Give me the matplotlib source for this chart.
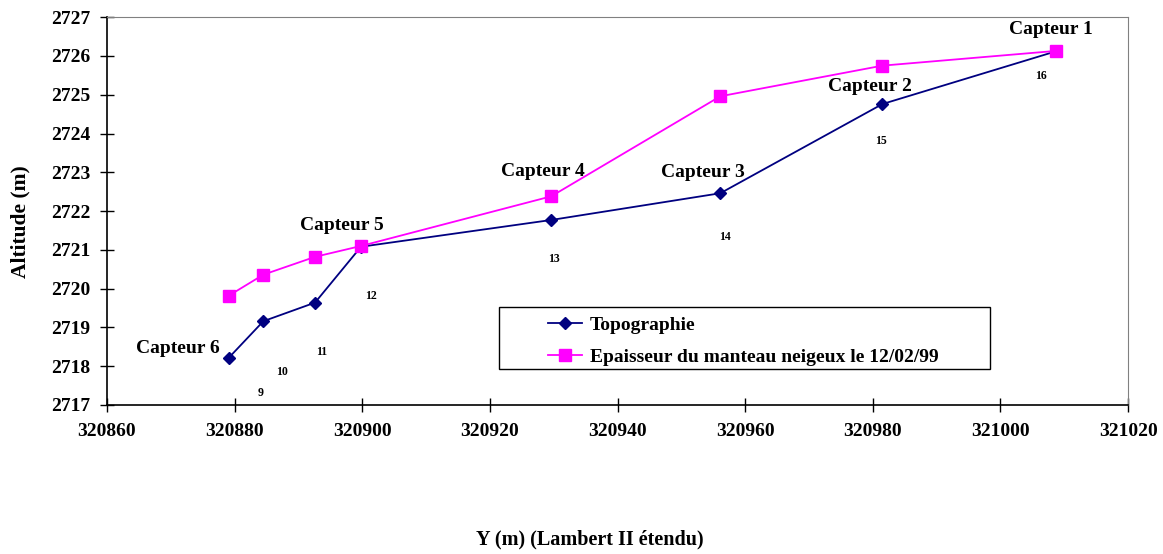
import matplotlib.pyplot as plt
from matplotlib.patches import Rectangle

plt.rcParams['font.family'] = ['Liberation Serif', 'DejaVu Serif']
plt.rcParams['font.weight'] = 'bold'

# profil en long : Y (Lambert II étendu) et altitudes
y_lambert = [320879.1, 320884.5, 320892.6, 320899.8, 320929.6, 320956.1, 320981.5, 321008.7]
topo = [2718.22, 2719.16, 2719.64, 2721.08, 2721.77, 2722.46, 2724.76, 2726.12]
neige = [2719.82, 2720.36, 2720.82, 2721.10, 2722.38, 2724.96, 2725.75, 2726.13]

# numéros des points
num_labels = ['9', '10', '11', '12', '13', '14', '15', '16']
num_x = [320884.1, 320887.4, 320893.7, 320901.4, 320930.1, 320956.9, 320981.2, 321006.4]
num_y = [2717.31, 2717.84, 2718.37, 2719.81, 2720.76, 2721.33, 2723.80, 2725.48]

# capteurs : (texte, indice du point, série)
capteurs = ['Capteur 1', 'Capteur 2', 'Capteur 3', 'Capteur 4', 'Capteur 5', 'Capteur 6']
capteur_idx = [7, 6, 5, 4, 3, 0]
capteur_serie = ['neige', 'topo', 'topo', 'neige', 'neige', 'topo']

fig = plt.figure(figsize=(11.63, 5.54), dpi=100)
ax = fig.add_axes([0.092, 0.269, 0.878, 0.70])

ax.plot(y_lambert, topo, color='#000080', lw=1.3, marker='D', ms=6,
        label='Topographie', zorder=3)
ax.plot(y_lambert, neige, color='#FF00FF', lw=1.3, marker='s', ms=8,
        label='Epaisseur du manteau neigeux le 12/02/99', zorder=3)

for t, x, y in zip(num_labels, num_x, num_y):
    ax.text(x, y, t, fontsize=8.5, ha='center', va='center', fontweight='bold')

# décalages en pixels (dx, dy) pour les étiquettes des capteurs
offsets = [(-5, 21), (-12, 18), (-17, 21), (-8, 25), (-19, 20), (-51, 9)]
for t, i, s, off in zip(capteurs, capteur_idx, capteur_serie, offsets):
    yv = neige[i] if s == 'neige' else topo[i]
    ax.annotate(t, (y_lambert[i], yv), xytext=(off[0] * 0.72, off[1] * 0.72),
                textcoords='offset points', ha='center', va='center',
                fontsize=14, fontweight='bold')

ax.set_xlim(320860, 321020)
ax.set_ylim(2717, 2727)
ax.set_xticks(range(320860, 321021, 20))
ax.set_yticks(range(2717, 2728))
ax.tick_params(axis='both', labelsize=14, direction='inout', length=10, width=1)
ax.tick_params(axis='x', pad=8)
ax.tick_params(axis='y', pad=7)
for lbl in ax.get_xticklabels() + ax.get_yticklabels():
    lbl.set_fontweight('bold')

for sp in ['top', 'right']:
    ax.spines[sp].set_color('#808080')
for sp in ['left', 'bottom']:
    ax.spines[sp].set_color('black')
    ax.spines[sp].set_linewidth(1.2)

ax.set_xlabel('Y (m) (Lambert II étendu)', fontsize=14.5, fontweight='bold')
ax.xaxis.set_label_coords(0.473, -0.322)
ax.set_ylabel('Altitude (m)', fontsize=15.5, fontweight='bold')
ax.yaxis.set_label_coords(-0.075, 0.474)

# cadre de la légende
ax.add_patch(Rectangle((0.384, 0.093), 0.481, 0.160, transform=ax.transAxes,
                       facecolor='white', edgecolor='black', lw=1.0, zorder=4))
leg = ax.legend(loc='upper left', bbox_to_anchor=(0.432, 0.2295), frameon=False,
                fontsize=14, handlelength=1.75, borderpad=0, labelspacing=0.77,
                handletextpad=0.4, borderaxespad=0)
leg.set_zorder(5)
for t in leg.get_texts():
    t.set_fontweight('bold')

fig.savefig('out.png', dpi=100)
